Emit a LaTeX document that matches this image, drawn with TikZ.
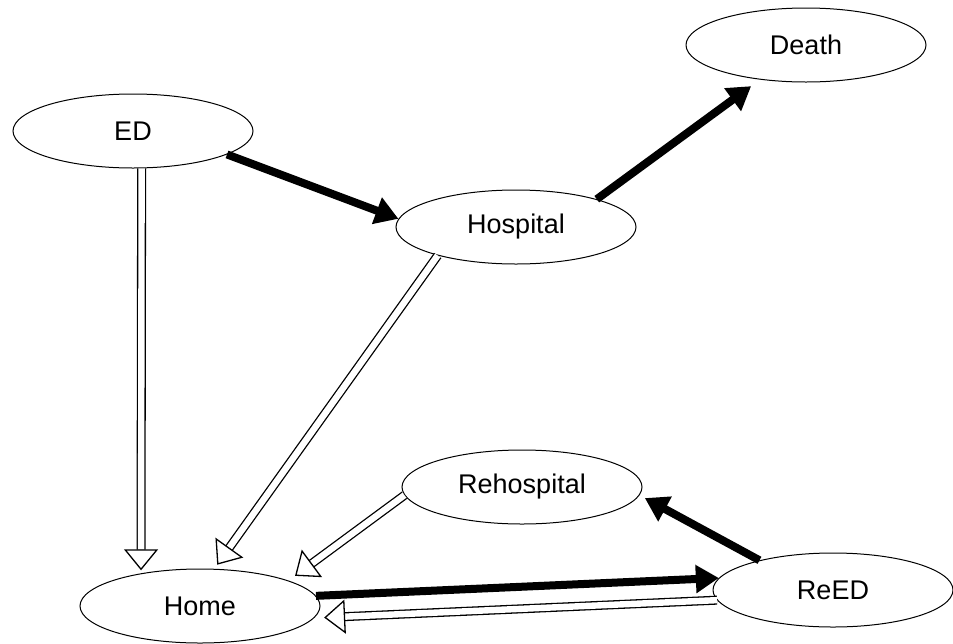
\documentclass[tikz,border=0pt]{standalone}
\usepackage{fontspec}
\setmainfont{Liberation Sans}
\usetikzlibrary{arrows.meta,shapes.geometric}
\tikzset{
	state/.style={draw, ellipse, line width=1pt, minimum width=240pt, minimum height=74pt, inner sep=0pt, font=\fontsize{27}{31}\selectfont},
	heavyarrow/.style={line width=8pt, -{Triangle[length=23pt,width=27pt]}},
	hollowarrow/.style={double, double distance=6.4pt, line width=1.3pt, -{Triangle[open,length=21pt,width=34pt,line width=1.3pt]}}
}

\begin{document}
\begin{tikzpicture}[x=1pt, y=-1pt]
		%%%%% START %%%%%
		\useasboundingbox (0, 0) rectangle (953, 643);
		
		\node[state] (ED) at (133, 131) {ED};
		\node[state] (Death) at (806, 45) {Death};
		\node[state] (Hospital) at (516, 227) {Hospital};
		\node[state] (Rehospital) at (522, 487) {Rehospital};
		\node[state] (Home) at (200, 606) {Home};
		\node[state] (ReED) at (833, 590) {ReED};
		
		\draw[heavyarrow] (ED.-14) -- (Hospital.176);
		\draw[heavyarrow, shorten >=11pt] (Hospital.19) -- (Death.217);
		\draw[heavyarrow, shorten >=6pt] (ReED.158) -- (Rehospital.-4);
		\draw[heavyarrow] (Home.5) -- (ReED.174);
		
		\draw[hollowarrow, shorten >=3pt] (ED.-77) -- (Home.151);
		\draw[hollowarrow, shorten >=5pt] (Hospital.200) -- (Home.69);
		\draw[hollowarrow, shorten >=8pt] (Rehospital.184) -- (Home.16);
		\draw[hollowarrow, shorten >=10pt] (ReED.185) -- (Home.-6);
		
		%%%%% END %%%%%
	\end{tikzpicture}
\end{document}
